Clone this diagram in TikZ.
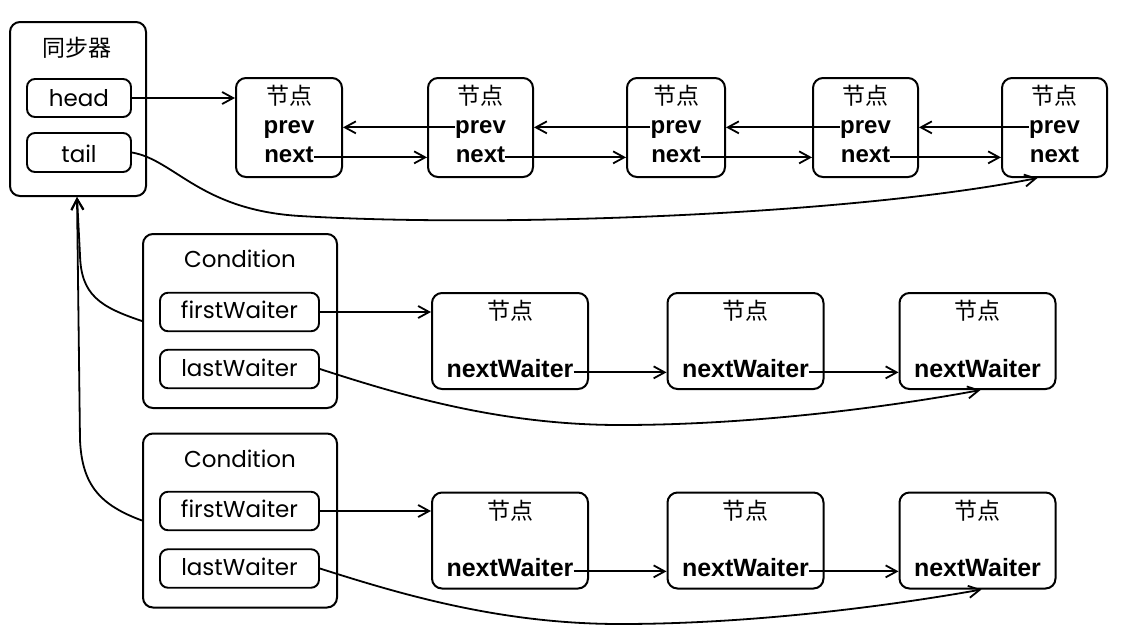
\documentclass[tikz,border=0pt]{standalone}
\usepackage{fontspec}
\setmainfont{Liberation Sans}
\newfontfamily\cjk{Noto Sans CJK SC}
\newfontfamily\geo{Poppins}
\usetikzlibrary{arrows.meta}
\begin{document}
\begin{tikzpicture}[x=1pt,y=-1pt,
  box/.style={draw, rounded corners=10pt, inner sep=0pt, line width=2pt},
  field/.style={draw, rounded corners=8pt, inner sep=0pt, line width=1.9pt},
  geolbl/.style={font=\geo\fontsize{23}{23}\selectfont, inner sep=0pt, anchor=base},
  cjklbl/.style={font=\cjk\fontsize{23}{23}\selectfont, inner sep=0pt},
  bold/.style={font=\bfseries\fontsize{24}{24}\selectfont, inner sep=0pt, anchor=base},
  boldw/.style={font=\bfseries\fontsize{25}{25}\selectfont, inner sep=0pt, anchor=base},
  arr/.style={-{Straight Barb[length=11pt,width=12pt,line width=1.8pt]}, line width=1.8pt},
]
\useasboundingbox[fill=white] (0,0) rectangle (1137,633);

% synchronizer
\node[box, minimum width=136pt, minimum height=174pt] (sync) at (78,109) {};
\node[cjklbl] (synct) at (77,48) {同步器};
\node[field, minimum width=104pt, minimum height=38pt] (head) at (79,98) {};
\node[geolbl] (headt) at (79,106) {head};
\node[field, minimum width=104pt, minimum height=39pt] (tail) at (79,152.5) {};
\node[geolbl] (tailt) at (79,162) {tail};

% top nodes
\foreach \i/\cx/\w in {1/289/106, 2/480.5/105, 3/676/98, 4/865.5/105, 5/1054.5/105}{
  \node[box, minimum width=\w pt, minimum height=99pt] (n\i) at (\cx,127.5) {};
  \node[cjklbl] (n\i c) at (\cx,96) {节点};
  \node[bold] (n\i p) at (\cx,133) {prev};
  \node[bold] (n\i n) at (\cx,162) {next};
}
\draw[arr] (head.east) -- (head.east -| n1.west);
\foreach \a/\b in {1/2, 2/3, 3/4, 4/5}{
  \draw[arr] ([yshift=2pt]n\a n.mid east) -- ([yshift=2pt]n\a n.mid east -| n\b.west);
  \draw[arr] ([yshift=3pt]n\b p.mid west) -- ([yshift=3pt]n\b p.mid west -| n\a.east);
}
\draw[arr] (tail.east) .. controls (175,160) and (200,210) .. (300,216)
  .. controls (500,228) and (850,215) .. ([xshift=-17pt]n5.south);

% conditions
\foreach \k/\cy/\ty/\fy/\fb/\ly/\lb in {1/321/267/312/318/369/376, 2/520.5/467/511/517/568.5/575}{
  \node[box, minimum width=194pt, minimum height=174pt] (c\k) at (240,\cy) {};
  \node[geolbl] (c\k t) at (240,\ty) {Condition};
  \node[field, minimum width=159pt, minimum height=38.5pt] (fw\k) at (239.5,\fy) {};
  \node[geolbl] (fw\k t) at (239.5,\fb) {firstWaiter};
  \node[field, minimum width=159pt, minimum height=38.5pt] (lw\k) at (239.5,\ly) {};
  \node[geolbl] (lw\k t) at (239.5,\lb) {lastWaiter};
}

% waiter nodes
\foreach \k/\cy/\hy/\by in {1/341/311/377, 2/540.5/511/576}{
  \foreach \j/\cx in {1/510, 2/745.5, 3/977.5}{
    \node[box, minimum width=156pt, minimum height=96pt] (w\k\j) at (\cx,\cy) {};
    \node[cjklbl] (w\k\j c) at (\cx,\hy) {节点};
    \node[boldw] (w\k\j n) at (\cx,\by) {nextWaiter};
  }
  \draw[arr] (fw\k.east) -- (fw\k.east -| w\k1.west);
  \draw[arr] ([yshift=2pt]w\k1n.mid east) -- ([yshift=2pt]w\k1n.mid east -| w\k2.west);
  \draw[arr] ([yshift=2pt]w\k2n.mid east) -- ([yshift=2pt]w\k2n.mid east -| w\k3.west);
}
\draw[arr] (lw1.east) .. controls (400,395) and (500,425) .. (620,425)
  .. controls (760,425) and (900,405) .. ([xshift=3pt]w13.south);
\draw[arr] (lw2.east) .. controls (400,594) and (500,624) .. (620,624)
  .. controls (760,624) and (900,604) .. ([xshift=4pt]w23.south);

% back links
\draw[arr] (c1.west) .. controls (100,307) and (81,295) .. (80,255) -- ([xshift=-1pt]sync.south);
\draw[arr] (c2.west) .. controls (100,505) and (82,485) .. (80,440) -- ([xshift=-1pt]sync.south);
\end{tikzpicture}
\end{document}
